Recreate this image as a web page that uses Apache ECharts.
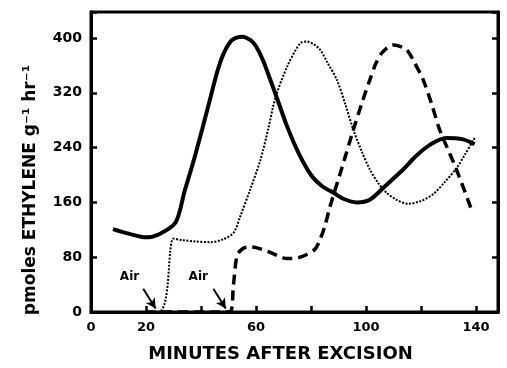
<!DOCTYPE html>
<html>
<head>
<meta charset="utf-8">
<script src="https://cdn.jsdelivr.net/npm/echarts@6/dist/echarts.min.js"></script>
<style>
html, body { margin: 0; padding: 0; background: #fff; }
#chart { width: 507px; height: 368px; }
</style>
</head>
<body>
<div id="chart"></div>
<script>
// minutes after excision / pmoles ethylene
var solidX = [8, 14, 20, 25, 30.8, 34, 37.4, 40.5, 43.5, 46, 48.3, 51.3, 55, 58, 60, 62.5, 65.2, 68, 71.3, 75.5, 80, 84, 88.2, 92, 96.6, 101.4, 107, 113.5, 118, 123.2, 129.2, 135.3, 139.5];
var solidY = [121, 114, 109, 114, 131, 176, 222, 268, 314, 352, 378, 397, 402, 397, 388, 368, 339, 308, 271, 232, 200, 184, 174, 165, 160, 164, 184, 208, 227, 244, 254, 252, 245];

var dottedX = [0, 24.5, 30, 33, 38, 43.5, 48, 51.9, 54.3, 58, 61.6, 64.5, 67, 71.3, 76, 78.5, 81, 83.3, 86, 89.4, 92.5, 95.4, 98.5, 101.4, 104.5, 107.5, 111, 115.3, 120, 124.4, 128.5, 132.9, 136, 139.5];
var dottedY = [0, 0, 107, 105, 103, 102, 106, 116, 140, 180, 222, 268, 312, 358, 392, 395, 391, 383, 364, 339, 303, 266, 234, 208, 188, 174, 164, 158, 162, 172, 189, 210, 230, 254];

var dashedX = [20, 50.4, 51.8, 53.1, 55, 57.5, 60, 64, 68, 71.3, 75, 78.5, 81.5, 83.3, 85, 87, 91.2, 95.4, 98.5, 101.4, 103.5, 105.7, 109.9, 114.7, 117.5, 120.8, 124, 126.8, 132.9, 138.3];
var dashedY = [0, 0, 40, 82, 92, 95, 94, 89, 82, 78, 79, 84, 92, 106, 125, 155, 210, 266, 305, 339, 362, 378, 390, 383, 365, 339, 302, 266, 208, 150];

var xLabels = [0, 20, 60, 100, 140];
var airText = [[14, 51], [39, 51]];
var airArrows = [[[19, 34], [23.5, 5]], [[44.5, 34], [49, 5]]];

function pairs(xs, ys) {
    return xs.map(function (x, i) { return [x, ys[i]]; });
}

var font = 'DejaVu Sans';
var myChart = echarts.init(document.getElementById('chart'));

var yAxisBase = {
    type: 'value',
    min: 0,
    max: 438,
    interval: 80,
    splitLine: { show: false },
    axisLine: { show: true, lineStyle: { color: '#000', width: 3 } },
    axisTick: { show: true, inside: true, length: 6, lineStyle: { color: '#000', width: 2.5 } }
};

var option = {
    animation: false,
    grid: {
        left: 91, right: 9, top: 12, bottom: 55,
        show: true, borderColor: '#000', borderWidth: 3
    },
    xAxis: {
        type: 'value',
        min: 0,
        max: 148,
        interval: 20,
        name: 'MINUTES AFTER EXCISION',
        nameLocation: 'middle',
        nameGap: 33,
        nameTextStyle: {
            fontFamily: font, fontWeight: 'bold', fontSize: 18, color: '#000',
            padding: [0, 28, 0, 0]
        },
        splitLine: { show: false },
        axisLine: { lineStyle: { color: '#000', width: 3 } },
        axisTick: { inside: true, length: 6, lineStyle: { color: '#000', width: 2.5 } },
        axisLabel: {
            margin: 9,
            fontFamily: font, fontWeight: 'bold', fontSize: 13, color: '#000',
            formatter: function (v) { return xLabels.indexOf(v) >= 0 ? String(v) : ''; }
        }
    },
    yAxis: [
        Object.assign({}, yAxisBase, {
            position: 'left',
            name: 'pmoles ETHYLENE g\u207B\u00B9 hr\u207B\u00B9',
            nameLocation: 'middle',
            nameGap: 52,
            nameTextStyle: {
                fontFamily: font, fontWeight: 'bold', fontSize: 17, color: '#000',
                padding: [0, 56, 0, 0]
            },
            axisLabel: {
                margin: 9,
                fontFamily: font, fontWeight: 'bold', fontSize: 14, color: '#000',
                formatter: function (v) { return v % 80 === 0 ? String(v) : ''; }
            }
        }),
        Object.assign({}, yAxisBase, {
            position: 'right',
            axisLabel: { show: false }
        })
    ],
    series: [
        {
            type: 'line',
            data: pairs(dottedX, dottedY),
            showSymbol: false,
            smooth: 0.3,
            lineStyle: { color: '#000', width: 2, type: [2, 1.5] }
        },
        {
            type: 'line',
            data: pairs(dashedX, dashedY),
            showSymbol: false,
            smooth: 0.3,
            lineStyle: { color: '#000', width: 3.5, type: [10, 6] }
        },
        {
            type: 'line',
            data: pairs(solidX, solidY),
            showSymbol: false,
            smooth: 0.3,
            lineStyle: { color: '#000', width: 4 },
            markLine: {
                silent: true,
                symbol: ['none', 'arrow'],
                symbolSize: [8, 10],
                label: { show: false },
                lineStyle: { color: '#000', width: 2, type: 'solid' },
                data: airArrows.map(function (a) {
                    return [{ coord: a[0] }, { coord: a[1] }];
                })
            }
        },
        {
            type: 'scatter',
            data: airText,
            symbolSize: 0,
            silent: true,
            itemStyle: { opacity: 1 },
            label: {
                show: true,
                position: 'inside',
                formatter: 'Air',
                fontFamily: font, fontWeight: 'bold', fontSize: 12, color: '#000',
                opacity: 1
            }
        }
    ]
};

myChart.setOption(option);
</script>
</body>
</html>
